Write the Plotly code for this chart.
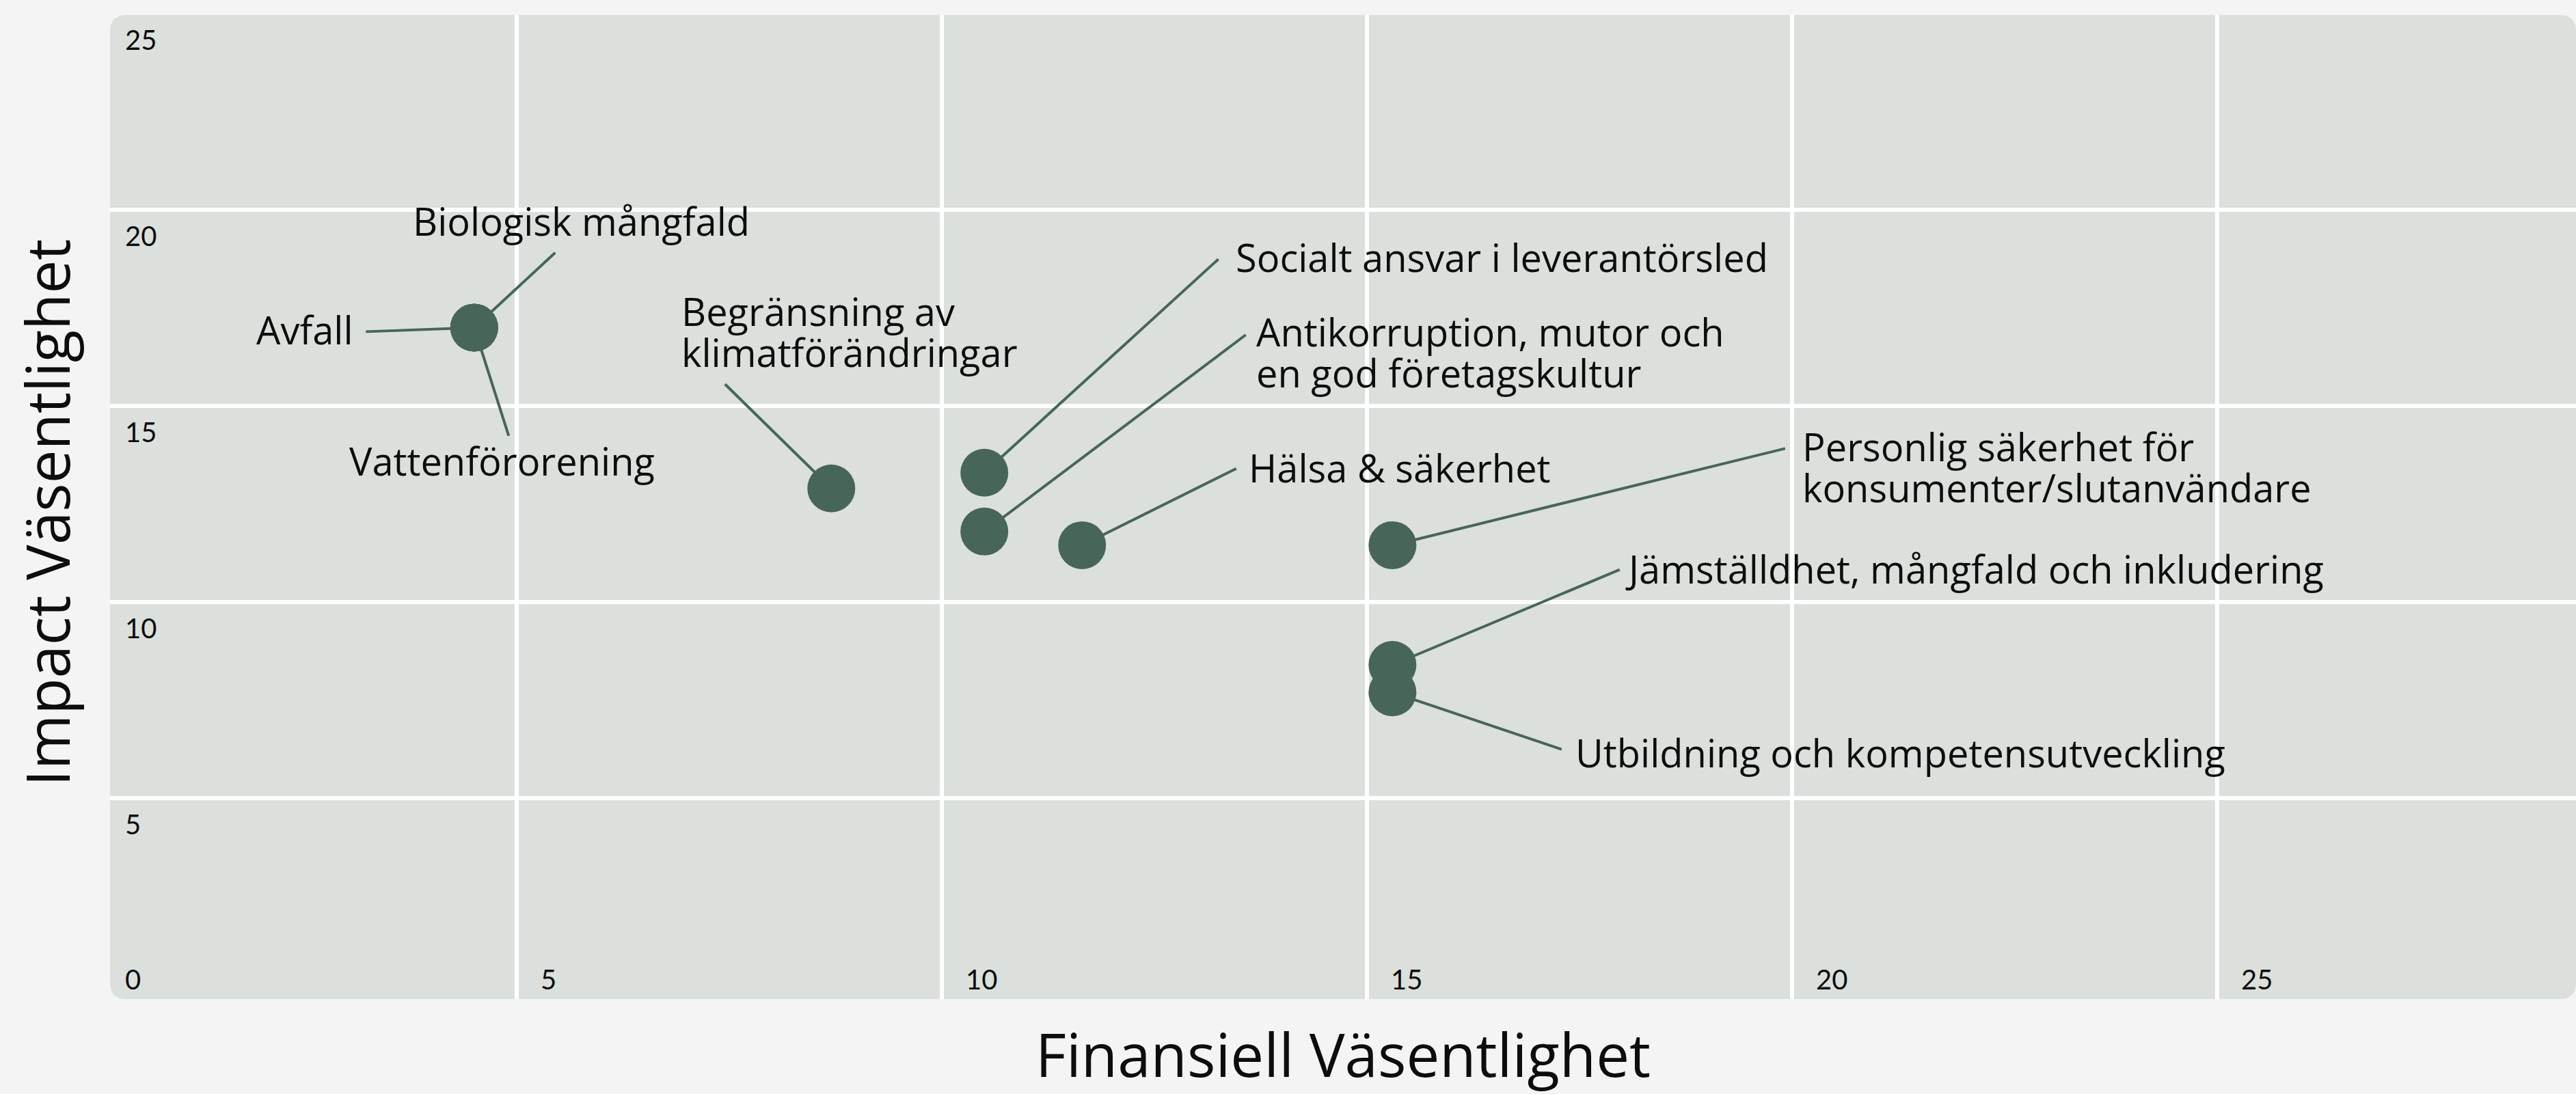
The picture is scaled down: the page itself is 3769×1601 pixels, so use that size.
import plotly.graph_objects as go

# ---------------- data ----------------
topics = [
    "Avfall",
    "Biologisk mångfald",
    "Vattenförorening",
    "Begränsning av klimatförändringar",
    "Socialt ansvar i leverantörsled",
    "Antikorruption, mutor och en god företagskultur",
    "Hälsa & säkerhet",
    "Personlig säkerhet för konsumenter/slutanvändare",
    "Jämställdhet, mångfald och inkludering",
    "Utbildning och kompetensutveckling",
]
financial = [4.5, 4.5, 4.5, 8.7, 10.5, 10.5, 11.65, 15.3, 15.3, 15.3]
impact = [17.0, 17.0, 17.0, 12.9, 13.3, 11.8, 11.45, 11.45, 8.4, 7.7]

x_ticks = [0, 5, 10, 15, 20, 25]
y_ticks = [5, 10, 15, 20, 25]

x_title = "Finansiell Väsentlighet"
y_title = "Impact Väsentlighet"

# ---------------- style / layout ----------------
W, H = 3769, 1601
ML, MR, MT, MB = 161, 0, 22, 139
PW, PH = W - ML - MR, H - MT - MB
X_RANGE = [0.217, 29.22]
Y_RANGE = [-0.12, 24.97]

PAPER = "#F3F4F3"
PLOT = "#DBE0DC"
DOT = "#48655A"
TXT = "#0d0d0d"
LBL_FONT = "Open Sans"
TICK_FONT = "Lato"
LBL_SIZE = 56
LINE_GAP = 60
TICK_SIZE = 40
TITLE_SIZE = 87

# per label: display lines, connector tail offset (px), text shift (px), text anchor
label_style = {
    "Avfall": (["Avfall"], -160, 6, -175, -3, "right"),
    "Biologisk mångfald": (["Biologisk mångfald"], 120, -111, 157, 156, "center"),
    "Vattenförorening": (["Vattenförorening"], 51, 160, 41, -195, "center"),
    "Begränsning av klimatförändringar": (["Begränsning av", "klimatförändringar"], -157, -154, -221, 230, "left"),
    "Socialt ansvar i leverantörsled": (["Socialt ansvar i leverantörsled"], 344, -314, 366, 316, "left"),
    "Antikorruption, mutor och en god företagskultur": (["Antikorruption, mutor och", "en god företagskultur"], 384, -289, 396, 263, "left"),
    "Hälsa & säkerhet": (["Hälsa & säkerhet"], 227, -113, 242, 114, "left"),
    "Personlig säkerhet för konsumenter/slutanvändare": (["Personlig säkerhet för", "konsumenter/slutanvändare"], 576, -142, 598, 115, "left"),
    "Jämställdhet, mångfald och inkludering": (["Jämställdhet, mångfald och inkludering"], 334, -140, 339, 141, "left"),
    "Utbildning och kompetensutveckling": (["Utbildning och kompetensutveckling"], 249, 84, 266, -88, "left"),
}

fig = go.Figure()
fig.add_trace(go.Scatter(
    x=financial, y=impact, mode="markers", text=topics,
    marker=dict(size=70, color=DOT, line=dict(width=0)),
    hoverinfo="text", showlegend=False,
))

annotations = []
for name, xv, yv in zip(topics, financial, impact):
    lines, ax, ay, xs, ys, xa = label_style[name]
    # connector
    annotations.append(dict(
        x=xv, y=yv, xref="x", yref="y", text="", showarrow=True,
        ax=ax, ay=ay, arrowhead=0, arrowwidth=4, arrowcolor=DOT,
        standoff=0, startstandoff=0, font=dict(size=1),
    ))
    # label lines
    n = len(lines)
    for i, line in enumerate(lines):
        annotations.append(dict(
            x=xv, y=yv, xref="x", yref="y", text=line, showarrow=False,
            xshift=xs, yshift=ys - (i - (n - 1) / 2) * LINE_GAP,
            xanchor=xa, yanchor="middle", align="left",
            font=dict(family=LBL_FONT, size=LBL_SIZE, color=TXT),
        ))

# tick labels drawn inside the plot area
tick_font = dict(family=TICK_FONT, size=TICK_SIZE, color=TXT)
for v in x_ticks:
    if v > X_RANGE[0]:
        annotations.append(dict(x=v, xref="x", y=0, yref="paper", text=str(v),
                                showarrow=False, xanchor="left", yanchor="middle",
                                xshift=33, yshift=29, font=tick_font))
    else:
        annotations.append(dict(x=0, xref="paper", y=0, yref="paper", text=str(v),
                                showarrow=False, xanchor="left", yanchor="middle",
                                xshift=20, yshift=29, font=tick_font))
for v in y_ticks:
    if v < Y_RANGE[1]:
        annotations.append(dict(x=0, xref="paper", y=v, yref="y", text=str(v),
                                showarrow=False, xanchor="left", yanchor="middle",
                                xshift=20, yshift=-38, font=tick_font))
    else:
        annotations.append(dict(x=0, xref="paper", y=1, yref="paper", text=str(v),
                                showarrow=False, xanchor="left", yanchor="middle",
                                xshift=20, yshift=-36, font=tick_font))

# axis titles
annotations.append(dict(x=0.5, xref="paper", y=0, yref="paper", text=x_title,
                        showarrow=False, xanchor="center", yanchor="middle",
                        yshift=-80, font=dict(family=LBL_FONT, size=TITLE_SIZE, color=TXT)))
annotations.append(dict(x=0, xref="paper", y=0.494, yref="paper", text=y_title,
                        showarrow=False, xanchor="center", yanchor="middle", textangle=-90,
                        xshift=-93, font=dict(family=LBL_FONT, size=TITLE_SIZE, color=TXT)))

# rounded plot background
r = 24
rx, ry = r / PW, r / PH
path = (f"M {rx},0 L {1-rx},0 Q 1,0 1,{ry} L 1,{1-ry} Q 1,1 {1-rx},1 "
        f"L {rx},1 Q 0,1 0,{1-ry} L 0,{ry} Q 0,0 {rx},0 Z")
shapes = [dict(type="path", xref="paper", yref="paper", path=path,
               fillcolor=PLOT, line=dict(width=0), layer="below")]

fig.update_layout(
    width=W, height=H,
    margin=dict(l=ML, r=MR, t=MT, b=MB, autoexpand=False),
    paper_bgcolor=PAPER, plot_bgcolor="rgba(0,0,0,0)",
    font=dict(family=LBL_FONT, color=TXT),
    annotations=annotations, shapes=shapes,
    showlegend=False,
)
fig.update_xaxes(range=X_RANGE, tickvals=x_ticks, showticklabels=False,
                 showgrid=True, gridcolor="white", gridwidth=6,
                 zeroline=False, showline=False, ticks="")
fig.update_yaxes(range=Y_RANGE, tickvals=y_ticks, showticklabels=False,
                 showgrid=True, gridcolor="white", gridwidth=6,
                 zeroline=False, showline=False, ticks="")

fig.write_html(
    "out.html",
    config={"displayModeBar": False},
    post_script=("document.body.style.margin='0';"
                 "document.body.style.overflow='hidden';"
                 "document.body.style.background='" + PAPER + "';"),
)
